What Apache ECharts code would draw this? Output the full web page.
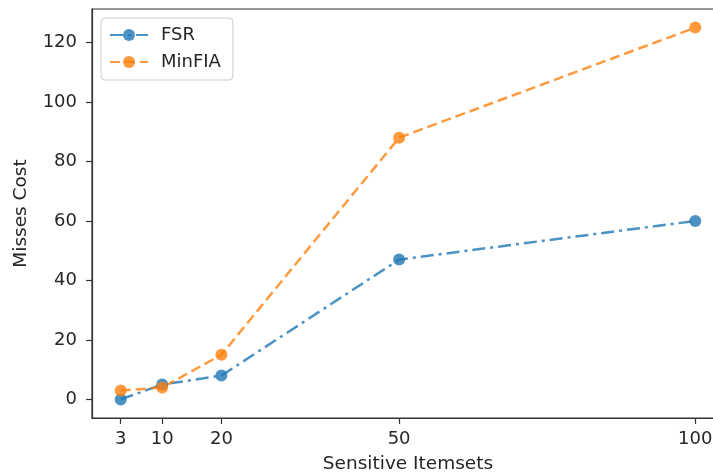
<!DOCTYPE html>
<html>
<head>
<meta charset="utf-8">
<script src="https://cdn.jsdelivr.net/npm/echarts@6/dist/echarts.min.js"></script>
<style>
html,body{margin:0;padding:0;background:#fff;}
#chart{width:713px;height:474px;}
</style>
</head>
<body>
<div id="chart"></div>
<script>
const xValues = [3, 10, 20, 50, 100];
const fsrValues = [0, 5, 8, 47, 60];
const minfiaValues = [3, 4, 15, 88, 125];
const xTicks = [3, 10, 20, 50, 100];
const yTicks = [0, 20, 40, 60, 80, 100, 120];

const font = 'DejaVu Sans';
const chart = echarts.init(document.getElementById('chart'));
chart.setOption({
  animation: false,
  backgroundColor: '#ffffff',
  grid: {
    left: 92, top: 9, right: -11, bottom: 56,
    show: true, borderColor: '#333333', borderWidth: 1.2,
    backgroundColor: 'transparent', containLabel: false, outerBoundsMode: 'none'
  },
  legend: {
    left: 101, top: 18, orient: 'vertical',
    padding: [8, 12, 9, 8], itemGap: 9,
    itemWidth: 38, itemHeight: 15,
    backgroundColor: 'rgba(255,255,255,0.8)',
    borderColor: '#cccccc', borderWidth: 1, borderRadius: 4,
    textStyle: { fontFamily: font, fontSize: 18, color: '#262626', padding: [0, 0, 0, 8] },
    data: ['FSR', 'MinFIA']
  },
  xAxis: {
    type: 'value', min: -1.85, max: 104.85,
    name: 'Sensitive Itemsets', nameLocation: 'middle', nameGap: 37,
    nameTextStyle: { fontFamily: font, fontSize: 18.5, color: '#262626' },
    axisLine: { show: true, onZero: false, lineStyle: { color: '#333333', width: 1.2 } },
    axisTick: { show: true, length: 6, customValues: xTicks, lineStyle: { color: '#333333', width: 1.2 } },
    axisLabel: { customValues: xTicks, margin: 12, fontFamily: font, fontSize: 18, color: '#262626' },
    splitLine: { show: false }
  },
  yAxis: {
    type: 'value', min: -6.25, max: 131.25,
    name: 'Misses Cost', nameLocation: 'middle', nameGap: 61,
    nameTextStyle: { fontFamily: font, fontSize: 18.5, color: '#262626' },
    axisLine: { show: true, onZero: false, lineStyle: { color: '#333333', width: 1.2 } },
    axisTick: { show: true, length: 6, customValues: yTicks, lineStyle: { color: '#333333', width: 1.2 } },
    axisLabel: { customValues: yTicks, margin: 15, fontFamily: font, fontSize: 18, color: '#262626' },
    splitLine: { show: false }
  },
  series: [
    {
      name: 'FSR', type: 'line',
      data: xValues.map((x, i) => [x, fsrValues[i]]),
      symbol: 'circle', symbolSize: 12,
      itemStyle: { color: '#1f77b4', opacity: 0.8 },
      lineStyle: { color: '#1f77b4', width: 2.5, opacity: 0.8, type: [13, 5, 3, 5] }
    },
    {
      name: 'MinFIA', type: 'line',
      data: xValues.map((x, i) => [x, minfiaValues[i]]),
      symbol: 'circle', symbolSize: 12,
      itemStyle: { color: '#ff7f0e', opacity: 0.8 },
      lineStyle: { color: '#ff7f0e', width: 2.5, opacity: 0.8, type: [10, 5] }
    }
  ]
});
</script>
</body>
</html>
